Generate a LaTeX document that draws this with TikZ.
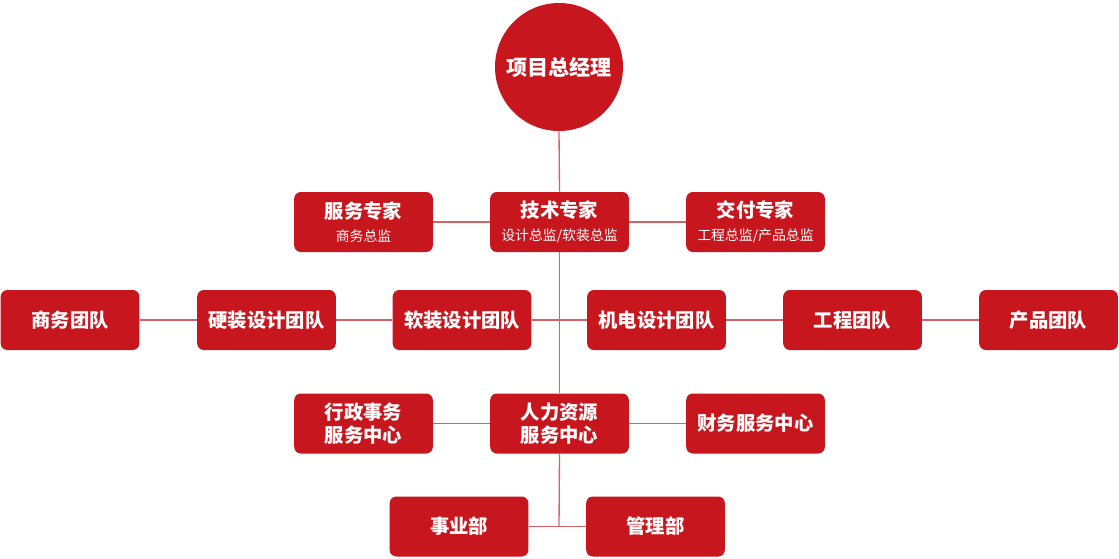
\documentclass[tikz,border=0pt]{standalone}
\usepackage{fontspec}
\setmainfont{Noto Sans CJK SC}
\definecolor{orgred}{RGB}{200, 22, 30}
\definecolor{linkred}{RGB}{214, 96, 104}
\usetikzlibrary{positioning}

\tikzset{
  unitbox/.style={fill=orgred, text=white, rounded corners=5pt,
    minimum width=104pt, minimum height=45pt, inner sep=2pt,
    align=center, font=\fontsize{14.5}{17.5}\selectfont\bfseries},
  link/.style={draw=linkred, line width=1pt}
}

\begin{document}
\begin{tikzpicture}[x=0.75pt, y=-0.75pt]
  \useasboundingbox (0,0) rectangle (1119,558);

  % top
  \node[circle, fill=orgred, text=white, minimum size=96pt, inner sep=0pt,
        font=\fontsize{15.8}{18}\selectfont\bfseries] (gm) at (559,67) {项目总经理};

  % experts
  \node[unitbox] (fw) at (363.5,222) {服务专家\\[0pt]{\fontsize{10.4}{13}\selectfont\mdseries 商务总监}};
  \node[unitbox] (js) at (559.5,222) {技术专家\\[0pt]{\fontsize{10.4}{13}\selectfont\mdseries 设计总监/软装总监}};
  \node[unitbox] (jf) at (755.5,222) {交付专家\\[0pt]{\fontsize{10.4}{13}\selectfont\mdseries 工程总监/产品总监}};

  % teams
  \node[unitbox] (sw) at (70,320) {商务团队};
  \node[unitbox] (yz) at (266.5,320) {硬装设计团队};
  \node[unitbox] (rz) at (462,320) {软装设计团队};
  \node[unitbox] (jd) at (656.5,320) {机电设计团队};
  \node[unitbox] (gc) at (852.5,320) {工程团队};
  \node[unitbox] (cp) at (1048.5,320) {产品团队};

  % service centres
  \node[unitbox] (xz) at (363.5,423.5) {行政事务\\服务中心};
  \node[unitbox] (hr) at (559.5,423.5) {人力资源\\服务中心};
  \node[unitbox] (cw) at (755.5,423.5) {财务服务中心};

  % departments
  \node[unitbox] (syb) at (459,526.5) {事业部};
  \node[unitbox] (glb) at (655.5,526.5) {管理部};
  \coordinate (hub) at (559,526.5);

  % links
  \draw[link] (gm.south) -- (js.north);
  \draw[link] (js.south) -- (hr.north);
  \draw[link] (hr.south) -- (hub);
  \draw[link] (fw.east) -- (js.west);
  \draw[link] (js.east) -- (jf.west);
  \draw[link] (sw.east) -- (yz.west);
  \draw[link] (yz.east) -- (rz.west);
  \draw[link] (rz.east) -- (jd.west);
  \draw[link] (jd.east) -- (gc.west);
  \draw[link] (gc.east) -- (cp.west);
  \draw[link] (xz.east) -- (hr.west);
  \draw[link] (hr.east) -- (cw.west);
  \draw[link] (syb.east) -- (glb.west);
\end{tikzpicture}
\end{document}
